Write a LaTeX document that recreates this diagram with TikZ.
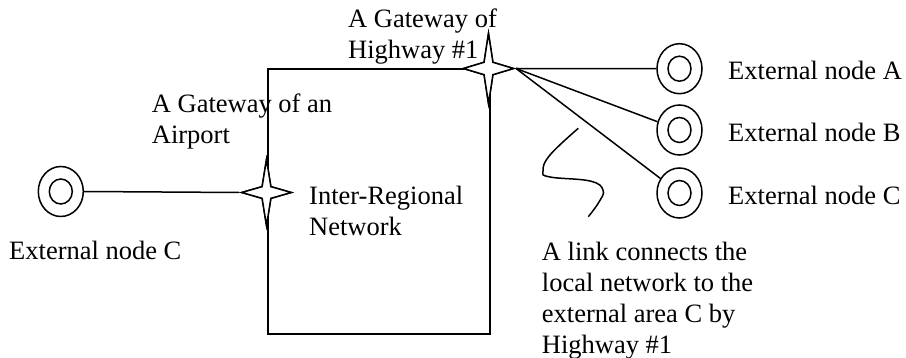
\documentclass[tikz,border=0pt]{standalone}
\usepackage{fontspec}
\setmainfont{Liberation Serif}
\usetikzlibrary{shapes.geometric}
\newcommand{\txtlines}[1]{\begin{tabular}[t]{@{}l@{}}#1\end{tabular}}
\begin{document}
\begin{tikzpicture}[x=1pt,y=-1pt,
  lbl/.style={anchor=base west, inner sep=0pt, font=\fontsize{26.5}{31}\selectfont},
  link/.style={line width=1.5pt},
  region/.style={draw, line width=2pt, inner sep=0pt, anchor=north west},
  extnode/.style={ellipse, draw, line width=1.5pt, inner sep=0pt,
    minimum width=45pt, minimum height=50pt,
    path picture={\draw[line width=1.5pt] (path picture bounding box.center) ellipse (11.5 and 12.5);}},
  gateway/.style={star, star points=4, star point ratio=4, draw, fill=white,
    line width=1.5pt, inner sep=0pt, minimum size=#1, transform shape}
]
\useasboundingbox (0,0) rectangle (906,358);

% the inter-regional network
\node[region, minimum width=222.5pt, minimum height=265pt] (net) at (266.5,68.3) {};

% external nodes
\node[extnode] (extCl) at (60.8,191.5) {};
\node[extnode] (extA) at (679.5,68.7) {};
\node[extnode] (extB) at (679.5,130) {};
\node[extnode] (extC) at (679.5,193) {};

% gateways (4-point stars, taller than wide)
\begin{scope}[shift={(488.5,68.5)}]
  \node[gateway=70pt, xscale=0.714] (gwHw) at (0,0) {};
\end{scope}
\begin{scope}[shift={(266.5,192.5)}]
  \node[gateway=66pt, xscale=0.75] (gwAir) at (0,0) {};
\end{scope}

% links
\draw[link] (extCl.east) -- (gwAir.west);
\draw[link] (gwHw.east) -- (extA);
\draw[link] (gwHw.east) -- (extB);
\draw[link] (gwHw.east) -- (extC);

% redraw gateways on top of the links
\begin{scope}[shift={(488.5,68.5)}]
  \node[gateway=70pt, xscale=0.714] at (0,0) {};
\end{scope}
\begin{scope}[shift={(266.5,192.5)}]
  \node[gateway=66pt, xscale=0.75] at (0,0) {};
\end{scope}

% wavy pointer to the link
\coordinate (wavyA) at (578.3,128.3);
\coordinate (wavyB) at (588.3,216.7);
\draw[link] plot[smooth, tension=0.7] coordinates
  {(wavyA) (550,155) (543,171) (550,177) (590,181) (603,190) (599,202) (wavyB)};

% labels
\node[lbl] (tHw) at (348,27.3) {\txtlines{A Gateway of\\Highway \#1}};
\node[lbl] (tAir) at (151.7,112.5) {\txtlines{A Gateway of an\\Airport}};
\node[lbl] (tNet) at (309,205) {\txtlines{Inter-Regional\\Network}};
\node[lbl] (tCl) at (9,260) {External node C};
\node[lbl] (tA) at (728,80) {External node A};
\node[lbl] (tB) at (728,142) {External node B};
\node[lbl] (tC) at (728,205) {External node C};
\node[lbl] (tLink) at (541.7,261) {\txtlines{A link connects the\\local network to the\\external area C by\\Highway \#1}};
\end{tikzpicture}
\end{document}
